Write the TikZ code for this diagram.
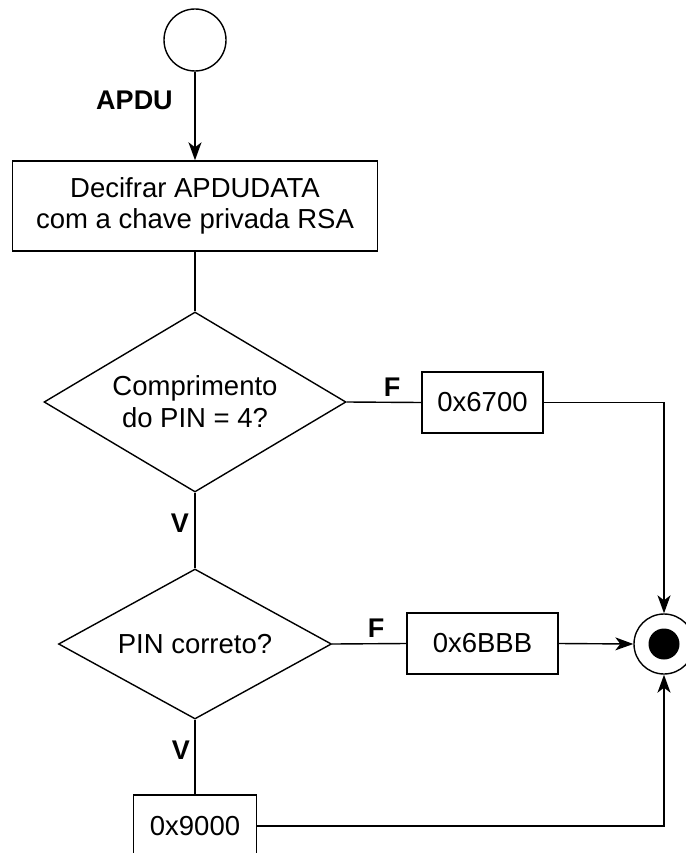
\documentclass[tikz,border=0pt]{standalone}
\usepackage{fontspec}
\setmainfont{Liberation Sans}
\usetikzlibrary{positioning, arrows.meta, shapes.geometric}

\begin{document}
\begin{tikzpicture}[x=1pt, y=-1pt, line width=1.4pt]

	% estilos
	\tikzset{
		caixa/.style = {
			rectangle, draw, align=center,
			inner sep=0pt, font=\fontsize{27.5}{31}\selectfont
		},
		decisao/.style = {
			diamond, draw, align=center, aspect=1.7,
			inner sep=0pt, font=\fontsize{27.5}{32}\selectfont
		},
		rotulo/.style = {font=\fontsize{27}{31}\selectfont\bfseries},
		seta/.style = {-{Stealth[length=18pt, width=13pt, inset=5pt]}}
	}

	% margens
	\useasboundingbox (0,0) rectangle (685,853);

	% nos
	\node[circle, draw, minimum size=62pt] (inicio) at (195,40) {};
	\node[caixa, minimum width=365pt, minimum height=90pt] (decifrar) at (195,206)
		{Decifrar APDUDATA\\com a chave privada RSA};
	\node[decisao, minimum width=302pt, minimum height=180pt] (tamanho) at (195,402)
		{Comprimento\\do PIN = 4?};
	\node[caixa, minimum width=121pt, minimum height=61pt] (erro1) at (482.5,402.5) {0x6700};
	\node[decisao, minimum width=273pt, minimum height=150pt] (pin) at (195,644)
		{PIN correto?};
	\node[caixa, minimum width=151pt, minimum height=61pt] (erro2) at (482.5,643.5) {0x6BBB};
	\node[caixa, minimum width=123pt, minimum height=62pt] (sucesso) at (195,826) {0x9000};

	% estado final
	\node[circle, draw, minimum size=60pt] (fim) at (664,644) {};
	\node[circle, fill, minimum size=31pt, inner sep=0pt] (fimmiolo) at (fim) {};

	% ligacoes
	\draw[seta] (inicio) -- (decifrar);
	\draw (decifrar) -- (tamanho);
	\draw (tamanho.east) -- (erro1.west);
	\draw[seta] (erro1.east) -| (fim.north);
	\draw (tamanho.south) -- (pin.north);
	\draw (pin.east) -- (erro2.west);
	\draw[seta] (erro2.east) -- (fim.west);
	\draw (pin.south) -- (sucesso.north);
	\draw[seta] (sucesso.east) -| (fim.south);

	% rotulos
	\node[rotulo] (apdu) at (134.5,100) {APDU};
	\node[rotulo] (falso1) at (392,387) {F};
	\node[rotulo] (verdade1) at (180,523) {V};
	\node[rotulo] (falso2) at (376,628) {F};
	\node[rotulo] (verdade2) at (181,750) {V};

\end{tikzpicture}
\end{document}
